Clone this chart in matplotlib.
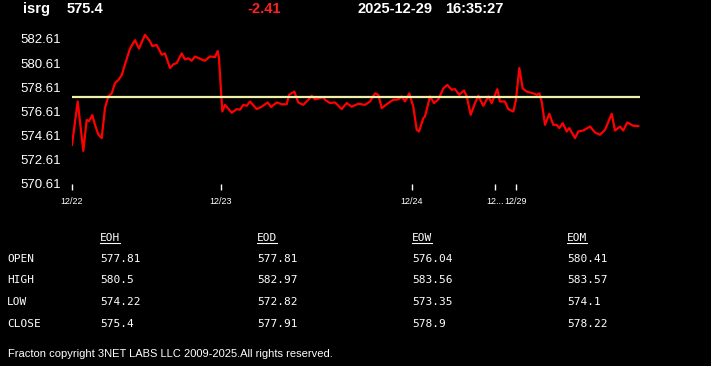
import matplotlib
matplotlib.use("Agg")
import matplotlib.pyplot as plt
from matplotlib.lines import Line2D

# ---------------- data ----------------
symbol = "isrg"
last_price = "575.4"
change = "-2.41"
date_str = "2025-12-29"
time_str = "16:35:27"
ref_price = 577.81

# intraday position (session-time units) and price
t = [0, 5.7, 11.3, 14.7, 17, 20.3, 23, 26.3, 29.7, 33,
     36.3, 39.7, 43, 46.3, 49.7, 53, 58, 63, 67, 73,
     78, 80.3, 84.7, 89.7, 93, 98, 101.3, 104.7, 109.7, 113,
     116.3, 119.7, 123, 129.7, 133, 138, 143, 145.7, 147, 149,
     150.3, 153, 159.7, 164.7, 168, 171.3, 174.7, 178, 184.7, 189.7,
     195.7, 199, 204.7, 209.7, 214.7, 217, 222.3, 226.3, 231.3, 236.3,
     239.7, 243, 248, 251.3, 253, 258, 263, 269.7, 274.7, 279.7,
     286.3, 293, 298, 303, 306.3, 309.7, 316.3, 321.3, 326.3, 329.7,
     333, 337.3, 341.3, 344.7, 347, 351.3, 353, 358, 362, 366.3,
     371.3, 375.3, 379.7, 383, 387.3, 392, 394.7, 398.7, 403, 406.3,
     411.3, 416.3, 419.7, 425.3, 428, 433, 436.3, 441.3, 444, 447.3,
     450.7, 454.7, 461.3, 464.7, 467.3, 469.7, 473, 477.3, 481.3, 484.7,
     487.3, 490.7, 494.7, 497.3, 503, 506.3, 511.3, 518, 523, 528,
     533, 539.7, 543, 548, 551.3, 555.3, 561.3, 566.3]
price = [573.85, 577.43, 573.35, 575.9, 575.8, 576.3, 575.5, 574.7, 574.4, 576.9,
         577.85, 578.1, 578.95, 579.2, 579.6, 580.5, 581.8, 582.5, 581.8, 582.94,
         582.4, 582.0, 582.1, 581.3, 581.4, 580.2, 580.5, 580.6, 581.4, 580.9,
         581.0, 580.8, 581.15, 580.9, 580.8, 581.15, 581.1, 581.6, 581.0, 578.3,
         576.6, 577.15, 576.5, 576.8, 576.75, 577.15, 577.07, 577.43, 576.8, 577.0,
         577.35, 576.97, 577.35, 577.2, 577.2, 577.98, 578.25, 577.35, 577.15, 577.57,
         577.9, 577.6, 577.7, 577.8, 577.57, 577.3, 577.35, 576.8, 577.3, 577.0,
         577.24, 577.15, 577.43, 578.1, 577.98, 576.88, 577.3, 577.57, 577.6, 577.85,
         577.43, 578.1, 577.0, 575.09, 574.95, 576.05, 576.19, 577.85, 577.3, 577.6,
         578.5, 578.8, 578.4, 578.45, 577.98, 578.34, 577.85, 576.33, 577.3, 577.9,
         577.07, 577.85, 577.3, 578.45, 577.43, 577.43, 576.8, 576.6, 577.57, 580.2,
         578.5, 578.25, 578.1, 577.98, 578.1, 577.43, 575.5, 576.41, 575.5, 575.5,
         575.23, 575.64, 574.95, 575.23, 574.4, 574.95, 575.03, 575.36, 574.87, 574.68,
         575.09, 576.41, 575.03, 575.36, 575.03, 575.7, 575.42, 575.4]

tick_pos = [0, 149, 340, 423, 444]
tick_labels = ["12/22", "12/23", "12/24", "12...", "12/29"]
y_ticks = [570.61, 572.61, 574.61, 576.61, 578.61, 580.61, 582.61]

col_headers = ["EOH", "EOD", "EOW", "EOM"]
row_labels = ["OPEN", "HIGH", "LOW", "CLOSE"]
table_values = [
    ["577.81", "577.81", "576.04", "580.41"],
    ["580.5", "582.97", "583.56", "583.57"],
    ["574.22", "572.82", "573.35", "574.1"],
    ["575.4", "577.91", "578.9", "578.22"],
]
copyright_text = "Fracton copyright 3NET LABS LLC 2009-2025.All rights reserved."

# ---------------- figure ----------------
W, H = 711, 366
fig = plt.figure(figsize=(W / 100, H / 100), dpi=100, facecolor="black")

def fx(px):
    return px / W

def fy(py):
    return 1 - py / H

ymin, ymax = 570.61, 583.3
ax_left, ax_right = 72, 640
ax_bottom = 184
ax_top = ax_bottom - (ymax - ymin) * 12.1
ax = fig.add_axes([fx(ax_left), fy(ax_bottom), fx(ax_right - ax_left),
                   (ax_bottom - ax_top) / H])
ax.set_facecolor("black")
ax.plot(t, price, color="#ff0000", lw=1.6, zorder=2, solid_joinstyle="round")
ax.axhline(ref_price, color="#f0f0a8", lw=1.6, zorder=3)
ax.set_xlim(0, 568)
ax.set_ylim(ymin, ymax)
for s in ax.spines.values():
    s.set_visible(False)
ax.set_yticks(y_ticks)
ax.set_yticklabels([f"{v:.2f}" for v in y_ticks], color="white",
                   fontsize=9.5, family="Liberation Sans")
ax.tick_params(axis="y", length=0, pad=8)
ax.set_xticks(tick_pos)
ax.set_xticklabels(tick_labels, color="white", fontsize=6.5, family="Liberation Sans")
ax.tick_params(axis="x", length=4, width=1, color="white", pad=5, direction="out")

# header
hdr = dict(color="white", fontsize=10.5, fontweight="bold", family="Liberation Sans",
           va="center", ha="left")
fig.text(fx(23), fy(9), symbol, **hdr)
fig.text(fx(67), fy(9), last_price, **hdr)
fig.text(fx(247), fy(9), change, **{**hdr, "color": "#ff2020"})
fig.text(fx(357), fy(9), date_str, **hdr)
fig.text(fx(445), fy(9), time_str, **hdr)

# table
mono = dict(color="white", fontsize=8, family="DejaVu Sans Mono", va="center", ha="left")
col_x = [100, 257, 412, 567]
row_y = [259, 280, 302, 324]
header_texts = []
for cx, h in zip(col_x, col_headers):
    header_texts.append(fig.text(fx(cx), fy(238), h, **mono))
for ry, lab, vals in zip(row_y, row_labels, table_values):
    fig.text(fx(7), fy(ry), lab, **mono)
    for cx, v in zip(col_x, vals):
        fig.text(fx(cx), fy(ry), v, **mono)

fig.canvas.draw()
renderer = fig.canvas.get_renderer()
for tx in header_texts:
    bb = tx.get_window_extent(renderer)
    x0, x1 = bb.x0 / W, bb.x1 / W
    yy = (bb.y0 - 0.5) / H
    fig.add_artist(Line2D([x0, x1], [yy, yy], color="white", lw=0.8,
                          transform=fig.transFigure))

fig.text(fx(8), fy(354), copyright_text, color="white", fontsize=8,
         family="Liberation Sans", va="center", ha="left")

fig.savefig("out.png", dpi=100, facecolor="black")
